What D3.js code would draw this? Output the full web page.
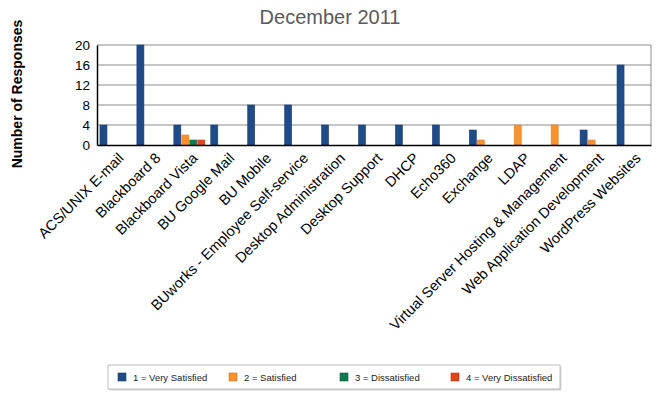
<!DOCTYPE html>
<html>
<head>
<meta charset="utf-8">
<script src="https://cdn.jsdelivr.net/npm/d3@7"></script>
<style>
  body { margin: 0; background: #fff; }
  text { font-family: "Liberation Sans", Arial, sans-serif; }
</style>
</head>
<body>
<svg id="chart" width="665" height="397"></svg>
<script>
const categories = ['ACS/UNIX E-mail', 'Blackboard 8', 'Blackboard Vista', 'BU Google Mail', 'BU Mobile',
  'BUworks - Employee Self-service', 'Desktop Administration', 'Desktop Support', 'DHCP', 'Echo360',
  'Exchange', 'LDAP', 'Virtual Server Hosting & Management', 'Web Application Development', 'WordPress Websites'];
const seriesNames = ['1 = Very Satisfied', '2 = Satisfied', '3 = Dissatisfied', '4 = Very Dissatisfied'];
const verySatisfied = [4, 20, 4, 4, 8, 8, 4, 4, 4, 4, 3, 0, 0, 3, 16];
const satisfied = [0, 0, 2, 0, 0, 0, 0, 0, 0, 0, 1, 4, 4, 1, 0];
const dissatisfied = [0, 0, 1, 0, 0, 0, 0, 0, 0, 0, 0, 0, 0, 0, 0];
const veryDissatisfied = [0, 0, 1, 0, 0, 0, 0, 0, 0, 0, 0, 0, 0, 0, 0];
const yTicks = [0, 4, 8, 12, 16, 20];
const colors = ['#1f4b87', '#f7922e', '#0d7a52', '#e2451a'];

const series = [verySatisfied, satisfied, dissatisfied, veryDissatisfied];

const svg = d3.select('#chart');
const margin = { top: 45, right: 14, bottom: 252, left: 97 };
const width = 665 - margin.left - margin.right;
const height = 397 - margin.top - margin.bottom;

const x0 = d3.scaleBand().domain(categories).range([0, width]).paddingInner(0.16).paddingOuter(0.08);
const x1 = d3.scaleBand().domain(d3.range(4)).range([0, x0.bandwidth()]).paddingInner(0.12);
const y = d3.scaleLinear().domain([0, 20]).range([height, 0]);

const g = svg.append('g').attr('transform', `translate(${margin.left},${margin.top})`);

// title
svg.append('text')
  .attr('x', 330).attr('y', 24)
  .attr('text-anchor', 'middle')
  .style('font-size', '20px')
  .attr('fill', '#5a5a5a')
  .text('December 2011');

// y label
svg.append('text')
  .attr('transform', 'translate(22,94) rotate(-90)')
  .attr('text-anchor', 'middle')
  .style('font-size', '14px')
  .style('font-weight', 'bold')
  .attr('fill', '#000')
  .text('Number of Responses');

// grid lines
g.selectAll('.grid')
  .data(yTicks.filter(d => d > 0))
  .enter().append('line')
  .attr('x1', 0).attr('x2', width)
  .attr('y1', d => y(d)).attr('y2', d => y(d))
  .attr('stroke', '#8c8c8c').attr('stroke-width', 1);

g.append('line')
  .attr('x1', width).attr('x2', width)
  .attr('y1', 0).attr('y2', height)
  .attr('stroke', '#8c8c8c');

// y axis
const yAxis = g.append('g')
  .call(d3.axisLeft(y).tickValues(yTicks).tickSize(0).tickPadding(7));
yAxis.select('.domain').attr('stroke', '#000').attr('stroke-width', 1.5);
yAxis.selectAll('.tick text')
  .style('font-size', '13.5px')
  .attr('fill', '#000')
  .style('font-family', '"Liberation Sans", Arial, sans-serif');

// bars
const groups = g.selectAll('.grp')
  .data(categories)
  .enter().append('g')
  .attr('transform', d => `translate(${x0(d)},0)`);

groups.selectAll('rect')
  .data((d, i) => series.map((s, k) => ({ k: k, v: s[i] })).filter(e => e.v > 0))
  .enter().append('rect')
  .attr('x', d => x1(d.k))
  .attr('width', x1.bandwidth())
  .attr('y', d => y(d.v))
  .attr('height', d => height - y(d.v))
  .attr('fill', d => colors[d.k])
  .attr('stroke', d => d3.color(colors[d.k]).darker(0.3))
  .attr('stroke-width', 0.6);

// x axis
const xAxis = g.append('g')
  .attr('transform', `translate(0,${height})`)
  .call(d3.axisBottom(x0).tickSize(0).tickPadding(0));
xAxis.select('.domain').attr('stroke', '#000').attr('stroke-width', 1.5);
xAxis.selectAll('.tick text')
  .style('font-size', '14.5px')
  .style('font-family', '"Liberation Sans", Arial, sans-serif')
  .attr('fill', '#000')
  .attr('text-anchor', 'end')
  .attr('dy', 0)
  .attr('transform', `translate(9,14) rotate(-45)`);

// legend
const legend = svg.append('g').attr('transform', 'translate(108,365)');
legend.append('rect')
  .attr('x', 1.5).attr('y', 1.5).attr('width', 452).attr('height', 24)
  .attr('fill', '#d8d8d8');
legend.append('rect')
  .attr('x', 0).attr('y', 0).attr('width', 452).attr('height', 24)
  .attr('fill', '#fff').attr('stroke', '#b0b0b0').attr('stroke-width', 0.8);
const items = legend.selectAll('.item')
  .data(seriesNames)
  .enter().append('g')
  .attr('transform', (d, i) => `translate(${10 + i * 111},8)`);
items.append('rect')
  .attr('width', 8).attr('height', 8)
  .attr('fill', (d, i) => colors[i])
  .attr('stroke', (d, i) => d3.color(colors[i]).darker(0.6))
  .attr('stroke-width', 0.6);
items.append('text')
  .attr('x', 15).attr('y', 8)
  .style('font-size', '9.5px')
  .attr('fill', '#222')
  .text(d => d);
</script>
</body>
</html>
